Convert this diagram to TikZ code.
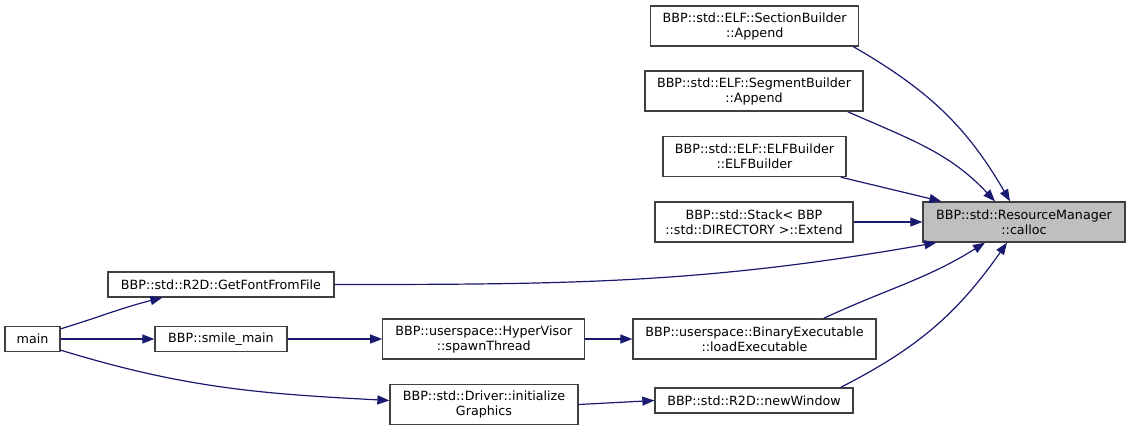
\documentclass[tikz,border=0pt]{standalone}
\usepackage{fontspec}
\setmainfont{DejaVu Sans}
\usetikzlibrary{arrows.meta,positioning}
\definecolor{Midnight}{HTML}{191970}
\definecolor{Frame}{HTML}{404040}
\definecolor{Focus}{HTML}{BFBFBF}

\begin{document}
\begin{tikzpicture}[
  x=1pt,y=1pt,>={Triangle[length=12pt,width=9pt]},
  fn/.style={draw=Frame,fill=white,line width=1.3pt,
    inner sep=0pt,align=center,font=\fontsize{12.7}{15}\selectfont},
  fntwo/.style={fn,minimum height=40pt},
  fnone/.style={fn,minimum height=25pt},
  call/.style={->,line width=1.2pt,draw=Midnight}
]
\useasboundingbox (0,0) rectangle (1131,-431);
\node[fntwo,minimum width=208pt] (sect) at (754.7,-26) {BBP::std::ELF::SectionBuilder\\::Append};
\node[fntwo,minimum width=218pt] (segm) at (754,-91) {BBP::std::ELF::SegmentBuilder\\::Append};
\node[fntwo,minimum width=183pt] (elfb) at (754.5,-156.5) {BBP::std::ELF::ELFBuilder\\::ELFBuilder};
\node[fntwo,minimum width=198pt] (stck) at (754,-222) {BBP::std::Stack< BBP\\::std::DIRECTORY >::Extend};
\node[fntwo,minimum width=202pt,fill=Focus] (calloc) at (1024,-222) {BBP::std::ResourceManager\\::calloc};
\node[fnone,minimum width=226pt] (font) at (221,-284.5) {BBP::std::R2D::GetFontFromFile};
\node[fnone,minimum width=55pt] (main) at (32.5,-339) {main};
\node[fnone,minimum width=132pt] (smile) at (221,-339) {BBP::smile\_main};
\node[fntwo,minimum width=202pt] (hyper) at (483.8,-339) {BBP::userspace::HyperVisor\\::spawnThread};
\node[fntwo,minimum width=243pt] (binex) at (754.5,-339) {BBP::userspace::BinaryExecutable\\::loadExecutable};
\node[fntwo,minimum width=188pt] (drvr) at (484,-404.5) {BBP::std::Driver::initialize\\Graphics};
\node[fnone,minimum width=198pt] (nwin) at (754,-400.5) {BBP::std::R2D::newWindow};
% callers of calloc
\draw[call] ([xshift=-6pt]sect.south east) to[out=-30,in=120] ([xshift=-14pt]calloc.north);
\draw[call] ([xshift=-16pt]segm.south east) to[out=-24,in=133] ([xshift=-29pt]calloc.north);
\draw[call] ([xshift=-6pt]elfb.south east) -- ([xshift=19pt]calloc.north west);
\draw[call] (stck) -- (calloc);
\draw[call] (font.east) to[out=0,in=190] ([xshift=14pt]calloc.south west);
\draw[call] ([xshift=-53pt]binex.north east) to[out=25,in=-148] ([xshift=-39pt]calloc.south);
\draw[call] ([xshift=-13pt]nwin.north east) to[out=27,in=-125] ([xshift=-17pt]calloc.south);
% call chains from main
\draw[call] ([yshift=-3pt]main.north east) to[out=17,in=-166] ([xshift=55pt]font.south west);
\draw[call] (main) -- (smile);
\draw[call] ([yshift=2pt]main.south east) to[out=-17,in=177] ([yshift=4pt]drvr.west);
\draw[call] (smile) -- (hyper);
\draw[call] (hyper) -- (binex);
\draw[call] (drvr.east) -- (nwin.west);
\end{tikzpicture}
\end{document}
